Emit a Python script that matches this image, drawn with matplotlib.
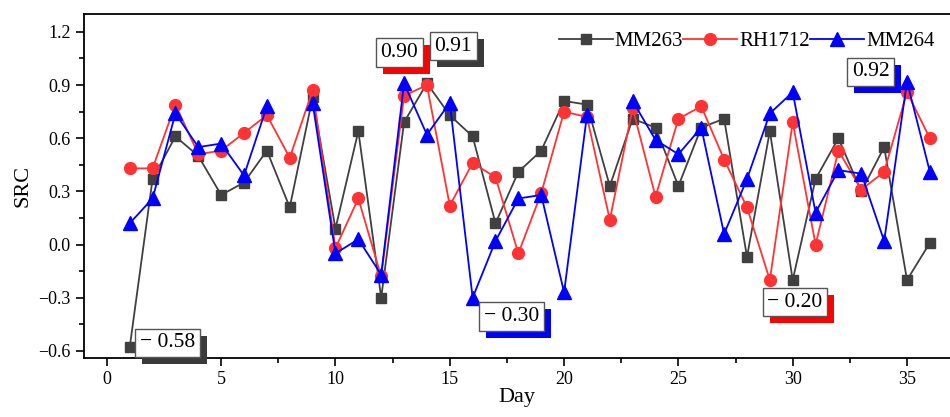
import numpy as np
import matplotlib
matplotlib.use('Agg')
import matplotlib.pyplot as plt
import matplotlib.transforms as mtransforms
from matplotlib.patches import Rectangle
from matplotlib.ticker import MultipleLocator

plt.rcParams['font.family'] = ['Liberation Serif', 'DejaVu Serif']
plt.rcParams['axes.unicode_minus'] = True

days = np.arange(1, 37)
mm263 = [-0.58, 0.37, 0.61, 0.50, 0.28, 0.35, 0.53, 0.21, 0.83, 0.09,
         0.64, -0.30, 0.69, 0.91, 0.73, 0.61, 0.12, 0.41, 0.53, 0.81,
         0.79, 0.33, 0.71, 0.66, 0.33, 0.66, 0.71, -0.07, 0.64, -0.20,
         0.37, 0.60, 0.30, 0.55, -0.20, 0.01]
rh1712 = [0.43, 0.43, 0.79, 0.51, 0.53, 0.63, 0.73, 0.49, 0.87, -0.02,
          0.26, -0.18, 0.84, 0.90, 0.22, 0.46, 0.38, -0.05, 0.29, 0.75,
          0.72, 0.14, 0.77, 0.27, 0.71, 0.78, 0.48, 0.21, -0.20, 0.69,
          0.00, 0.53, 0.31, 0.41, 0.86, 0.60]
# MM264 has no value on day 8 and day 22
mm264 = [0.12, 0.26, 0.74, 0.55, 0.57, 0.39, 0.78, np.nan, 0.80, -0.05,
         0.03, -0.17, 0.91, 0.62, 0.80, -0.30, 0.02, 0.26, 0.28, -0.27,
         0.73, np.nan, 0.81, 0.59, 0.51, 0.66, 0.06, 0.37, 0.74, 0.86,
         0.18, 0.42, 0.40, 0.02, 0.92, 0.41]

# labelled extremes: (text, box x, box y, shadow colour)
labels = [
    ('\u2212 0.58', 2.65, -0.555, '#3a3a3a'),
    ('0.90', 12.8, 1.085, '#ff0000'),
    ('0.91', 15.15, 1.12, '#3a3a3a'),
    ('0.92', 33.4, 0.975, '#0000ff'),
    ('\u2212 0.30', 17.7, -0.405, '#0000ff'),
    ('\u2212 0.20', 30.1, -0.325, '#ff0000'),
]

fig = plt.figure(figsize=(9.5, 4.17), dpi=100)
ax = fig.add_axes([0.0884, 0.1415, 0.9116, 0.8245])

ax.plot(days, mm263, color='#404040', marker='s', markersize=7, lw=1.3,
        label='MM263')
ax.plot(days, rh1712, color='#ff3333', marker='o', markersize=8.5, lw=1.3,
        label='RH1712')
ax.plot(days, mm264, color='#0000ff', marker='^', markersize=9.5, lw=1.3,
        label='MM264')

boxes = []
for txt, bx, by, sc in labels:
    t = ax.text(bx, by, txt, fontsize=15.5, color='black', ha='center',
                va='center', zorder=6,
                bbox=dict(boxstyle='square,pad=0.22', fc='white',
                          ec='#555555', lw=1))
    boxes.append((t, sc))

ax.set_xlim(-1, 36.88)
ax.set_ylim(-0.64, 1.3)
ax.xaxis.set_major_locator(MultipleLocator(5))
ax.xaxis.set_minor_locator(MultipleLocator(2.5))
ax.yaxis.set_minor_locator(MultipleLocator(0.15))
ax.set_yticks(np.arange(-0.6, 1.21, 0.3))
ax.set_yticklabels(['\u22120.6', '\u22120.3', '0.0', '0.3', '0.6', '0.9', '1.2'])
ax.tick_params(which='major', direction='out', length=6, width=1.2,
               labelsize=13, colors='black')
ax.tick_params(which='minor', direction='out', length=3.5, width=1.2)
for s in ['left', 'bottom', 'top']:
    ax.spines[s].set_linewidth(1.3)
ax.spines['right'].set_visible(False)

ax.set_xlabel('Day', fontsize=16, labelpad=0)
ax.set_ylabel('SRC', fontsize=16, labelpad=4)

ax.legend(loc='upper right', bbox_to_anchor=(0.997, 0.985), ncol=3,
          frameon=False, fontsize=15, handlelength=2.6, handletextpad=0.1,
          columnspacing=0.0, borderaxespad=0.2)

# drop shadows behind the label boxes, offset down-right in pixels
fig.canvas.draw()
renderer = fig.canvas.get_renderer()
for t, sc in boxes:
    bb = t.get_bbox_patch().get_window_extent(renderer)
    ax.add_patch(Rectangle((bb.x0 + 7, bb.y0 - 7), bb.width, bb.height,
                           transform=mtransforms.IdentityTransform(),
                           fc=sc, ec='none', zorder=5, clip_on=False))

plt.savefig('out.png', dpi=100)
